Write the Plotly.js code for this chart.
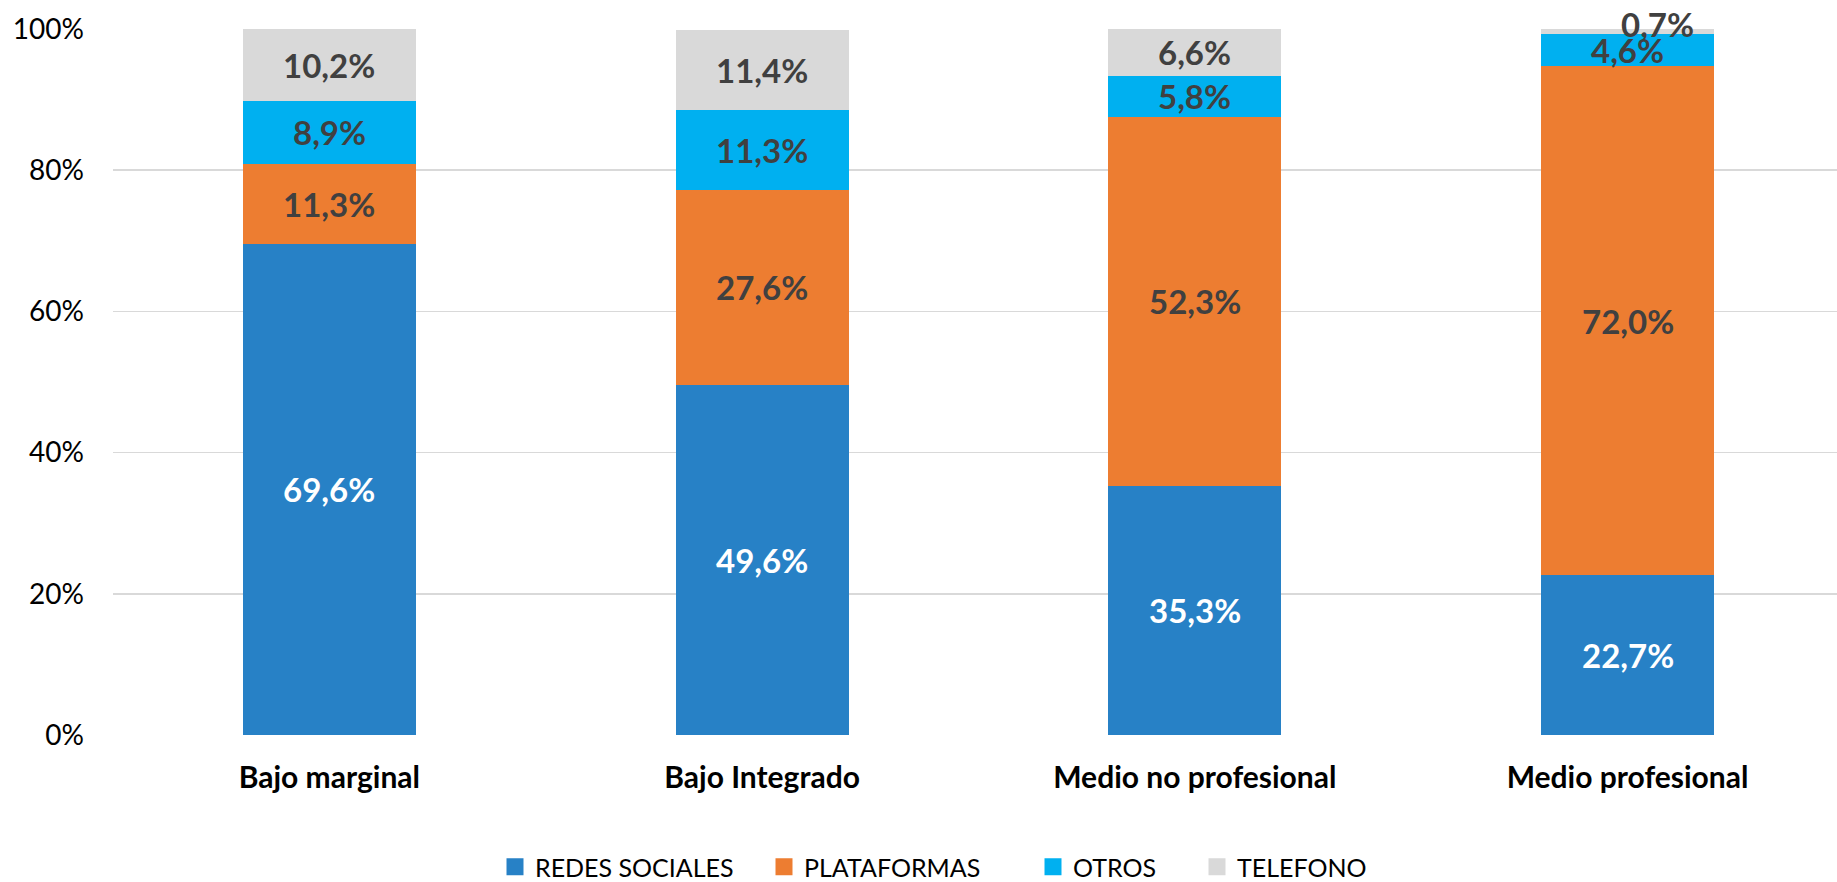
<!DOCTYPE html>
<html>
<head>
<meta charset="utf-8">
<script src="https://cdn.plot.ly/plotly-3.0.1.min.js"></script>
<style>
html,body{margin:0;padding:0;background:#fff;}
#chart{width:1837px;height:882px;}
</style>
</head>
<body>
<div id="chart"></div>
<script>
// ---- data ----
var categories = ["Bajo marginal", "Bajo Integrado", "Medio no profesional", "Medio profesional"];
var seriesNames = ["REDES SOCIALES", "PLATAFORMAS", "OTROS", "TELEFONO"];
var redesSociales = [69.6, 49.6, 35.3, 22.7];
var plataformas   = [11.3, 27.6, 52.3, 72.0];
var otros         = [8.9, 11.3, 5.8, 4.6];
var telefono      = [10.2, 11.4, 6.6, 0.7];
var yTickVals = [0, 20, 40, 60, 80, 100];
var yTickText = ["0%", "20%", "40%", "60%", "80%", "100%"];

// ---- styling ----
var seriesValues = [redesSociales, plataformas, otros, telefono];
var colors = ["#2781C6", "#ED7D31", "#00B0F0", "#D9D9D9"];
var labelColors = ["#FFFFFF", "#404040", "#404040", "#404040"];
var FONT = "Lato, 'Open Sans', sans-serif";
var legendIds = ["legend", "legend2", "legend3", "legend4"];
var legendLeftPx = [495, 764, 1033, 1197];

var traces = seriesNames.map(function (name, i) {
  return {
    type: "bar",
    name: name,
    x: categories,
    y: seriesValues[i],
    marker: {color: colors[i], line: {width: 0}},
    width: 0.4,
    legend: legendIds[i],
    hoverinfo: "x+y+name"
  };
});

function fmt(v) { return v.toFixed(1).replace(".", ",") + "%"; }

// small manual nudge for the tiny top segment (as in the original)
function nudge(si, ci) {
  if (si === 3 && ci === 3) return {x: 30, y: 7};
  return {x: 0, y: 0};
}

var annotations = [];
categories.forEach(function (cat, ci) {
  var base = 0;
  seriesValues.forEach(function (vals, si) {
    var v = vals[ci];
    var n = nudge(si, ci);
    annotations.push({
      x: cat, y: base + v / 2, xref: "x", yref: "y",
      text: "<b>" + fmt(v) + "</b>",
      showarrow: false,
      xshift: n.x, yshift: n.y,
      font: {family: FONT, size: 33, color: labelColors[si]}
    });
    base += v;
  });
});

var layout = {
  width: 1837, height: 882,
  margin: {l: 113, r: 0, t: 29, b: 147, pad: 0},
  paper_bgcolor: "#fff", plot_bgcolor: "#fff",
  barmode: "stack",
  font: {family: FONT, color: "#000"},
  xaxis: {
    type: "category",
    range: [-0.5, 3.484],
    showgrid: false, zeroline: false, showline: false,
    ticks: "",
    tickfont: {family: FONT, size: 30, color: "#000", weight: "bold"},
    ticklabelstandoff: 22
  },
  yaxis: {
    range: [0, 100],
    tickvals: yTickVals, ticktext: yTickText,
    showgrid: true, gridcolor: "#D9D9D9", gridwidth: 1.5,
    zeroline: false, showline: false,
    ticks: "",
    tickfont: {family: FONT, size: 28, color: "#000"},
    ticklabelstandoff: 28
  },
  showlegend: true,
  annotations: annotations
};

legendIds.forEach(function (id, i) {
  layout[id] = {
    orientation: "h",
    x: legendLeftPx[i] / 1837, xanchor: "left", xref: "container",
    y: 15 / 882, yanchor: "middle", yref: "container",
    font: {family: FONT, size: 25, color: "#000"},
    itemwidth: 30,
    bgcolor: "rgba(0,0,0,0)", borderwidth: 0
  };
});

Plotly.newPlot("chart", traces, layout, {displayModeBar: false, staticPlot: true}).then(function (gd) {
  // enlarge legend swatches to match the original's bigger squares
  gd.querySelectorAll("g.legendpoints path").forEach(function (p) {
    p.setAttribute("d", "M8.5,8.5H-8.5V-8.5H8.5Z");
  });
});
</script>
</body>
</html>
